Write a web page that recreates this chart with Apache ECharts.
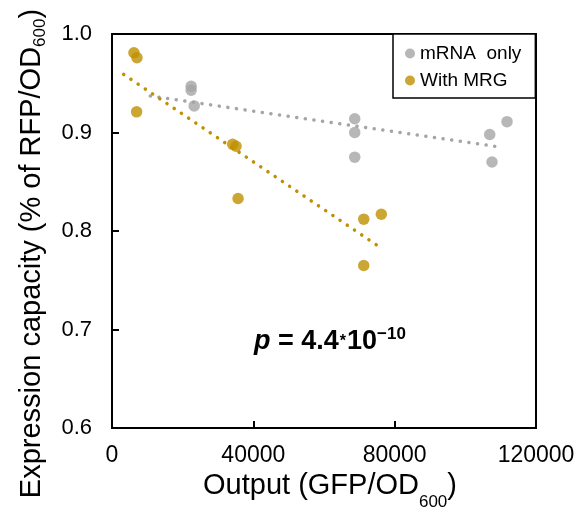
<!DOCTYPE html>
<html><head><meta charset="utf-8">
<script src="https://cdn.jsdelivr.net/npm/echarts@6/dist/echarts.min.js"></script>
<style>html,body{margin:0;padding:0;background:#fff}#c{width:576px;height:516px}</style>
</head><body><div id="c"></div>
<script>
// Data
const mrnaX = [22400, 22400, 23260, 68700, 68700, 68700, 106900, 107550, 111800];
const mrnaY = [0.947, 0.943, 0.927, 0.914, 0.900, 0.875, 0.898, 0.870, 0.911];
const mrgX = [6210, 7060, 6970, 34160, 35110, 35680, 71250, 76220, 71250];
const mrgY = [0.981, 0.976, 0.921, 0.888, 0.886, 0.833, 0.812, 0.817, 0.765];
const mrnaTrendX = [10840, 110100];
const mrnaTrendY = [0.937, 0.885];
const mrgTrendX = [3300, 76040];
const mrgTrendY = [0.959, 0.783];
const seriesNames = ['mRNA  only', 'With MRG'];
const xTickLabels = ['0', '40000', '80000', '120000'];
const yTickLabels = ['0.6', '0.7', '0.8', '0.9', '1.0'];
const pText = '4.4';
const pExp = '−10';

const GRAY = '#A5A5A5';
const GOLD = '#BF9000';
const FONT = 'Liberation Sans';
const zip = (xs, ys) => xs.map((x, i) => [x, ys[i]]);

const chart = echarts.init(document.getElementById('c'), null, {renderer: 'canvas'});
const dotted = { width: 3.5, type: [0.1, 8.6], cap: 'round' };

chart.setOption({
  animation: false,
  textStyle: { fontFamily: FONT, color: '#000' },
  grid: { left: 112, right: 40, top: 34, bottom: 88, show: true, borderColor: '#000', borderWidth: 2, containLabel: false, outerBoundsMode: 'none' },
  xAxis: {
    type: 'value', min: 0, max: 120000, interval: 40000,
    axisLine: { show: true, lineStyle: { color: '#000', width: 2 } },
    axisTick: { show: true, inside: true, length: 7, lineStyle: { color: '#000', width: 2 } },
    splitLine: { show: false },
    axisLabel: { fontSize: 23, margin: 16, color: '#000', fontFamily: FONT,
      formatter: v => xTickLabels[Math.round(v / 40000)] },
    name: '{a|Output (GFP/OD}{b|600}{a|)}',
    nameLocation: 'middle', nameGap: 36,
    nameTextStyle: { padding: [0, 0, 0, 12], rich: {
      a: { fontSize: 29, lineHeight: 29, verticalAlign: 'top', fontFamily: FONT, color: '#000' },
      b: { fontSize: 17, lineHeight: 17, verticalAlign: 'top', padding: [22, 0, 0, 0], fontFamily: FONT, color: '#000' }
    } }
  },
  yAxis: {
    type: 'value', min: 0.6, max: 1.0, interval: 0.1,
    axisLine: { show: true, lineStyle: { color: '#000', width: 2 } },
    axisTick: { show: true, inside: true, length: 7, lineStyle: { color: '#000', width: 2 } },
    splitLine: { show: false },
    axisLabel: { fontSize: 22, margin: 20, color: '#000', fontFamily: FONT,
      formatter: v => yTickLabels[Math.round((v - 0.6) / 0.1)] },
    name: '{a|Expression capacity (% of RFP/OD}{b|600}{a|)}',
    nameLocation: 'middle', nameGap: 66,
    nameTextStyle: { padding: [0, 45, 0, 0], rich: {
      a: { fontSize: 29, lineHeight: 29, verticalAlign: 'top', fontFamily: FONT, color: '#000' },
      b: { fontSize: 17, lineHeight: 17, verticalAlign: 'top', padding: [15, 0, 0, 0], fontFamily: FONT, color: '#000' }
    } }
  },
  legend: {
    data: seriesNames, orient: 'vertical', left: 393, top: 34,
    padding: [10, 14, 8, 12], itemGap: 8, itemWidth: 10, itemHeight: 10, icon: 'circle',
    borderColor: '#000', borderWidth: 1.5, backgroundColor: '#fff',
    textStyle: { fontSize: 19, fontFamily: FONT, color: '#000' }
  },
  graphic: [{
    type: 'text', left: 254, top: 326,
    style: {
      text: '{p|p}{t| = ' + pText + '}{a|*}{t|10}{s|' + pExp + '}',
      rich: {
        p: { fontSize: 27, fontWeight: 'bold', fontStyle: 'italic', lineHeight: 31, fontFamily: FONT, fill: '#000' },
        t: { fontSize: 27, fontWeight: 'bold', lineHeight: 31, fontFamily: FONT, fill: '#000' },
        a: { fontSize: 16, fontWeight: 'bold', lineHeight: 31, fontFamily: FONT, fill: '#000', padding: [0, 1, 0, 1] },
        s: { fontSize: 17, fontWeight: 'bold', lineHeight: 17, verticalAlign: 'top', fontFamily: FONT, fill: '#000' }
      }
    }
  }],
  series: [
    { name: 'mRNA trend', type: 'line', data: zip(mrnaTrendX, mrnaTrendY), symbol: 'none', silent: true, z: 1,
      lineStyle: Object.assign({ color: GRAY }, dotted) },
    { name: 'MRG trend', type: 'line', data: zip(mrgTrendX, mrgTrendY), symbol: 'none', silent: true, z: 1,
      lineStyle: Object.assign({ color: GOLD }, dotted) },
    { name: seriesNames[0], type: 'scatter', data: zip(mrnaX, mrnaY), symbolSize: 11.5, z: 3,
      itemStyle: { color: GRAY } },
    { name: seriesNames[1], type: 'scatter', data: zip(mrgX, mrgY), symbolSize: 11.5, z: 3,
      itemStyle: { color: GOLD } }
  ]
});
</script>
</body></html>
